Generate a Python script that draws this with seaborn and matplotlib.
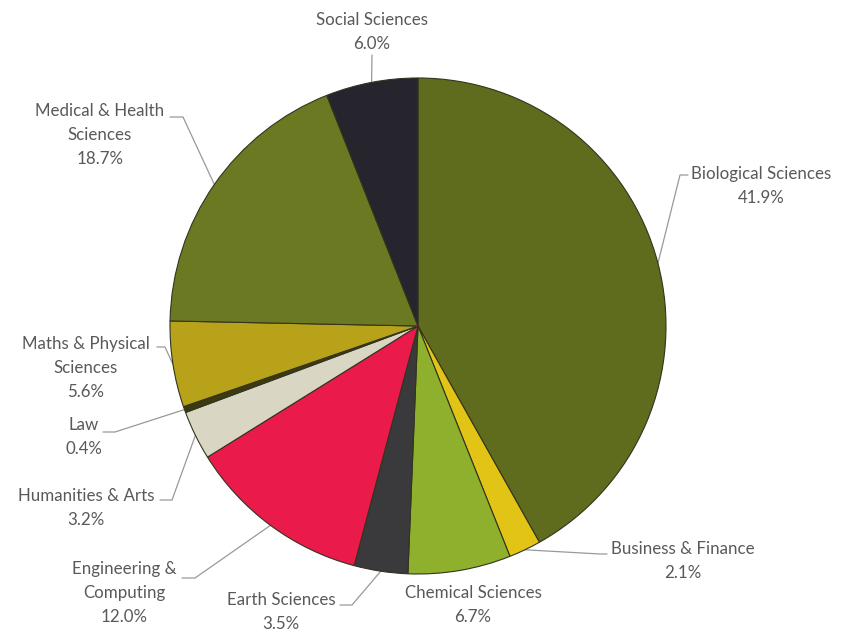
import numpy as np
import matplotlib
matplotlib.use('Agg')
import matplotlib.pyplot as plt
import seaborn as sns

sns.set_style('white')
plt.rcParams['font.family'] = ['Lato', 'DejaVu Sans']

# Data (clockwise from 12 o'clock)
categories = ['Biological Sciences', 'Business & Finance', 'Chemical Sciences',
              'Earth Sciences', 'Engineering &\nComputing', 'Humanities & Arts',
              'Law', 'Maths & Physical\nSciences', 'Medical & Health\nSciences',
              'Social Sciences']
shares = [41.9, 2.1, 6.7, 3.5, 12.0, 3.2, 0.4, 5.6, 18.7, 6.0]
colors = ['#5f6b1d', '#e2c416', '#8fb02c', '#3a3a3c', '#ea1a4a',
          '#d9d7c3', '#3d3a0f', '#b8a21a', '#6b7a22', '#26242c']

# label layout in pixel space: text centre, leader start, leader elbow
label_pos = [(761, 186), (683, 561), (473, 605), (281, 612), (124, 593),
             (86, 508), (84, 437), (86, 368), (100, 135), (372, 32)]
leader_start = [(688, 175), (607, 554), None, (340, 605), (182, 578),
                (160, 500), (103, 432), (157, 347), (170, 117), (372, 55)]
leader_elbow = [(680, 175), (600, 554), None, (352, 605), (195, 578),
                (172, 500), (115, 432), (165, 347), (183, 117), (372, 55)]

fig = plt.figure(figsize=(8.49, 6.34), dpi=100)
ax = fig.add_axes([0, 0, 1, 1])

centre = (418, 326)
radius = 248

# y axis is inverted, so counterclock=True runs clockwise on screen
wedges, _ = ax.pie(shares, colors=colors, startangle=-90, counterclock=True,
                   center=centre, radius=radius, frame=True,
                   wedgeprops=dict(linewidth=0.8, edgecolor='#33331f'))
ax.set_xlim(0, 849)
ax.set_ylim(634, 0)
ax.set_aspect('equal')
ax.axis('off')

for i, w in enumerate(wedges):
    text = f'{categories[i]}\n{shares[i]:.1f}%'
    ax.text(label_pos[i][0], label_pos[i][1], text, ha='center', va='center',
            multialignment='center', fontsize=12.2, color='#595959',
            linespacing=1.65)
    if leader_start[i] is None:
        continue
    mid = np.deg2rad((w.theta1 + w.theta2) / 2)
    edge = (centre[0] + radius * np.cos(mid), centre[1] + radius * np.sin(mid))
    xs = [leader_start[i][0], leader_elbow[i][0], edge[0]]
    ys = [leader_start[i][1], leader_elbow[i][1], edge[1]]
    ax.plot(xs, ys, color='#999999', linewidth=0.9, zorder=0.5)

fig.savefig('out.png', dpi=100)
